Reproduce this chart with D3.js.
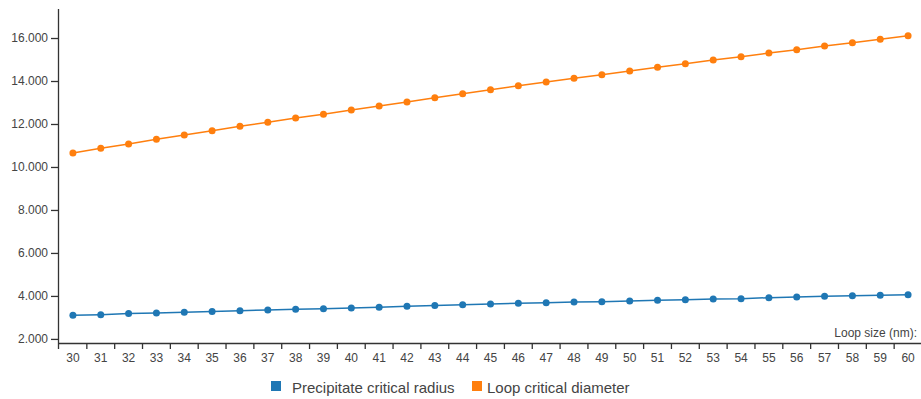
<!DOCTYPE html>
<html>
<head>
<meta charset="utf-8">
<script src="https://cdn.jsdelivr.net/npm/d3@7.9.0/dist/d3.min.js"></script>
<style>
  body { margin: 0; background: #fff; }
  svg { display: block; font-family: "Liberation Sans", Arial, sans-serif; }
  .axis text { fill: #444; font-size: 12px; }
  .axis path, .axis line { stroke: #333; stroke-width: 1.3; }
</style>
</head>
<body>
<div id="chart"></div>
<script>
// loop size categories (nm)
const loopSizes = d3.range(30, 61).map(String);

const precipitateRadius = [
  3102, 3130, 3177, 3209, 3242, 3270, 3316, 3349, 3381, 3409,
  3442, 3474, 3521, 3549, 3595, 3628, 3660, 3688, 3721, 3735,
  3767, 3800, 3828, 3860, 3874, 3921, 3953, 3986, 4014, 4033, 4060
];

const loopDiameter = [
  10651, 10870, 11070, 11288, 11488, 11688, 11893, 12079, 12279, 12451,
  12651, 12837, 13023, 13223, 13409, 13595, 13781, 13953, 14126, 14293,
  14465, 14637, 14805, 14977, 15130, 15302, 15456, 15628, 15781, 15940, 16107
];

const yTicks = [2000, 4000, 6000, 8000, 10000, 12000, 14000, 16000];

const series = [
  { name: 'Precipitate critical radius', color: '#1f77b4', values: precipitateRadius },
  { name: 'Loop critical diameter', color: '#ff7f0e', values: loopDiameter },
];

const width = 921;
const height = 399;

const svg = d3.select('#chart')
  .append('svg')
  .attr('width', width)
  .attr('height', height);

const x = d3.scaleBand().domain(loopSizes).range([59, 922]).padding(0);
const y = d3.scaleLinear().domain([1810, 17350]).range([343, 9]);

// x axis: labels centred in bands, ticks on band edges
const xAxis = svg.append('g')
  .attr('class', 'axis')
  .attr('transform', 'translate(0, 343)')
  .call(d3.axisBottom(x).tickSize(0).tickSizeOuter(0).tickPadding(10));
xAxis.select('.domain').attr('d', `M58,0.5H921`);

xAxis.selectAll('.edge')
  .data(loopSizes.slice(0, -1))
  .join('line')
  .attr('class', 'edge')
  .attr('x1', (d) => x(d) + x.bandwidth())
  .attr('x2', (d) => x(d) + x.bandwidth())
  .attr('y1', 0)
  .attr('y2', 6);

// y axis
const fmt = (d) => d3.format(',')(d).replace(',', '.');
const yAxis = svg.append('g')
  .attr('class', 'axis')
  .attr('transform', 'translate(58, 0)')
  .call(d3.axisLeft(y).tickValues(yTicks).tickFormat(fmt).tickSize(7).tickSizeOuter(0).tickPadding(3));
yAxis.select('.domain').attr('d', 'M0.5,9V349');

svg.append('text')
  .attr('x', 917)
  .attr('y', 337)
  .attr('text-anchor', 'end')
  .attr('fill', '#444')
  .style('font-size', '12px')
  .text('Loop size (nm):');

// lines + dots
const line = d3.line()
  .x((d, i) => x(loopSizes[i]) + x.bandwidth() / 2)
  .y((d) => y(d));

const groups = svg.selectAll('.series')
  .data(series)
  .join('g')
  .attr('class', 'series');

groups.append('path')
  .attr('d', (s) => line(s.values))
  .attr('fill', 'none')
  .attr('stroke', (s) => s.color)
  .attr('stroke-width', 1.5);

groups.selectAll('circle')
  .data((s) => s.values.map((v, i) => ({ v, i, color: s.color })))
  .join('circle')
  .attr('cx', (d) => x(loopSizes[d.i]) + x.bandwidth() / 2)
  .attr('cy', (d) => y(d.v))
  .attr('r', 3.5)
  .attr('fill', (d) => d.color);

// legend (square x, text x)
const legendPos = [[271, 292], [472, 487]];
const legend = svg.selectAll('.legend')
  .data(series)
  .join('g')
  .attr('class', 'legend');

legend.append('rect')
  .attr('x', (d, i) => legendPos[i][0])
  .attr('y', 381)
  .attr('width', 10)
  .attr('height', 10)
  .attr('fill', (d) => d.color);

legend.append('text')
  .attr('x', (d, i) => legendPos[i][1])
  .attr('y', 393)
  .attr('fill', '#444')
  .style('font-size', '15px')
  .text((d) => d.name);
</script>
</body>
</html>
